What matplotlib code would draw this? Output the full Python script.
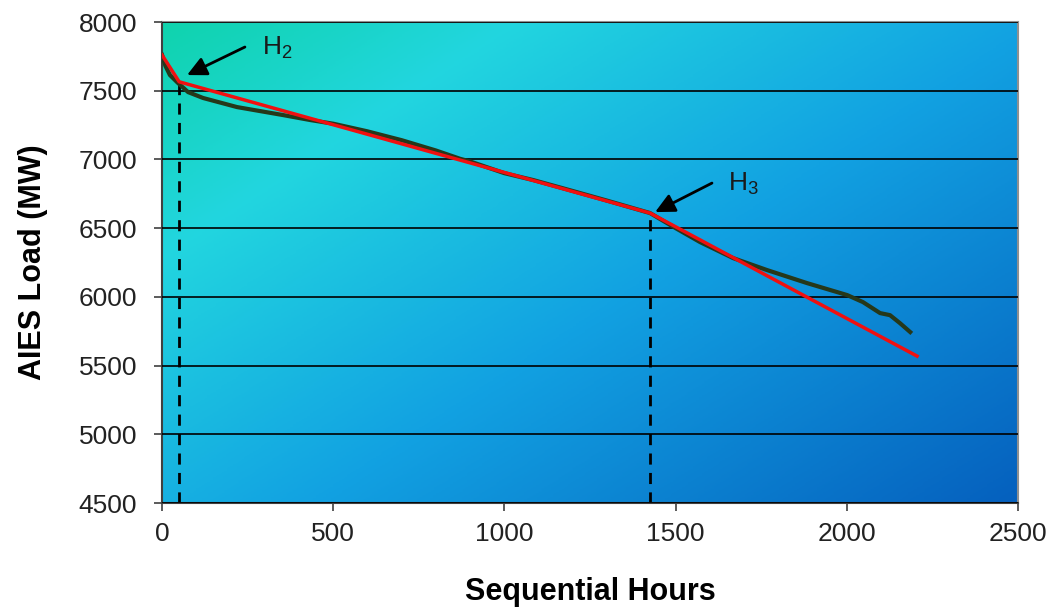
import numpy as np
import matplotlib.pyplot as plt
from matplotlib.colors import LinearSegmentedColormap

plt.rcParams["font.family"] = ["Liberation Sans", "DejaVu Sans"]
plt.rcParams["font.size"] = 18
plt.rcParams["mathtext.fontset"] = "custom"
plt.rcParams["mathtext.rm"] = "Liberation Sans"
plt.rcParams["mathtext.it"] = "Liberation Sans"

# load duration curve
hours = [0, 10, 23, 45, 76, 120, 219, 353, 432, 500, 599, 700, 800, 870, 900,
         1000, 1084, 1200, 1300, 1425, 1500, 1571, 1668, 1767, 1884, 2001, 2047,
         2097, 2126, 2155, 2185]
load = [7760, 7680, 7614, 7560, 7490, 7447, 7381, 7323, 7287, 7260, 7205, 7140,
        7065, 7005, 6985, 6900, 6850, 6770, 6700, 6610, 6500, 6399, 6282, 6195,
        6100, 6013, 5962, 5882, 5867, 5809, 5744]

# piecewise linear fit
fit_hours = [0, 50, 1425, 2205]
fit_load = [7760, 7565, 6610, 5569]

# breakpoints
h2 = (50, 7565)
h3 = (1425, 6610)

fig = plt.figure(figsize=(10.55, 6.13), dpi=100)
ax = fig.add_axes([0.1536, 0.1794, 0.8114, 0.7847])

# diagonal gradient background
cmap = LinearSegmentedColormap.from_list(
    "bg", [(0.0, "#0fd3ad"), (0.22, "#22d6df"), (0.55, "#12a2e2"), (1.0, "#0560be")])
xx, yy = np.meshgrid(np.linspace(0, 1, 300), np.linspace(1, 0, 300))
grad = (xx * 1.0 + (1 - yy) * 0.85) / 1.85
ax.imshow(grad, cmap=cmap, extent=[0, 1, 0, 1], transform=ax.transAxes,
          aspect="auto", zorder=0)

ax.set_xlim(0, 2500)
ax.set_ylim(4500, 8000)
ax.set_xticks(np.arange(0, 2501, 500))
ax.set_yticks(np.arange(4500, 8001, 500))
ax.yaxis.grid(True, color="black", lw=1.2)
ax.set_axisbelow(False)

ax.plot(hours, load, color="#26381a", lw=3, zorder=3)
ax.plot(fit_hours, fit_load, color="#f01010", lw=2.5, zorder=4)

ax.plot([h2[0], h2[0]], [4500, h2[1]], color="black", ls=(0, (4, 3)), lw=2, zorder=2)
ax.plot([h3[0], h3[0]], [4500, h3[1]], color="black", ls=(0, (4, 3)), lw=2, zorder=2)

arrow = dict(arrowstyle="-|>,head_length=0.65,head_width=0.32", color="black", lw=2,
             shrinkA=0, shrinkB=0)
ax.annotate("", xy=(73, 7614), xytext=(242, 7818), arrowprops=arrow, zorder=5)
ax.annotate("", xy=(1440, 6617), xytext=(1606, 6828), arrowprops=arrow, zorder=5)
ax.text(292, 7815, "H$_2$", fontsize=19, va="center", ha="left", color="#1a1a1a")
ax.text(1653, 6825, "H$_3$", fontsize=19, va="center", ha="left", color="#1a1a1a")

for s in ["top", "right"]:
    ax.spines[s].set_color("#909090")
    ax.spines[s].set_linewidth(1.5)
for s in ["left", "bottom"]:
    ax.spines[s].set_color("#404040")
    ax.spines[s].set_linewidth(1.5)
ax.tick_params(direction="out", length=6, width=1.2, colors="#404040",
               labelcolor="#222222", labelsize=19)
ax.tick_params(axis="x", pad=8)
ax.tick_params(axis="y", pad=12)

ax.set_xlabel("Sequential Hours", fontsize=22, fontweight="bold", labelpad=22)
ax.set_ylabel("AIES Load (MW)", fontsize=22, fontweight="bold", labelpad=22)

fig.savefig("out.png", dpi=100)
